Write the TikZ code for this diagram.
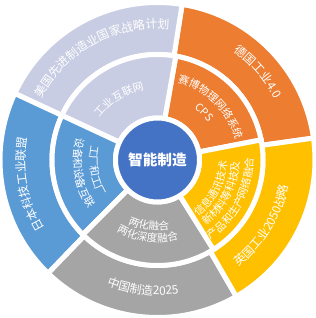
\documentclass[tikz,border=0pt]{standalone}
\usepackage{fontspec}
\setmainfont{Noto Sans CJK SC}
\usetikzlibrary{decorations.text}

\definecolor{segorange}{RGB}{237,125,49}
\definecolor{seglavender}{RGB}{201,205,227}
\definecolor{segblue}{RGB}{91,155,213}
\definecolor{seggray}{RGB}{165,165,165}
\definecolor{segyellow}{RGB}{255,192,0}
\definecolor{coreblue}{RGB}{68,114,196}

\newcommand\outerlbl{\fontsize{8.9pt}{10pt}\selectfont}
\newcommand\innerlbl{\fontsize{8pt}{9pt}\selectfont}

\begin{document}
\begin{tikzpicture}[
    x=0.75pt,
    y=0.75pt,
    seg/.style={draw=white, line width=3.75pt},
    arctext/.style={decorate, decoration={text along path, text align=center, text color=white}}
]
\useasboundingbox (-157.5,-158) rectangle (158.5,160);

% outer ring
\filldraw[seg, fill=segorange] (8:105.5) arc[start angle=8, end angle=81, radius=105.5] -- (81:157.5) arc[start angle=81, end angle=8, radius=157.5] -- cycle;
\filldraw[seg, fill=seglavender] (81:105.5) arc[start angle=81, end angle=155, radius=105.5] -- (155:157.5) arc[start angle=155, end angle=81, radius=157.5] -- cycle;
\filldraw[seg, fill=segblue] (155:105.5) arc[start angle=155, end angle=226, radius=105.5] -- (226:157.5) arc[start angle=226, end angle=155, radius=157.5] -- cycle;
\filldraw[seg, fill=seggray] (226:105.5) arc[start angle=226, end angle=300, radius=105.5] -- (300:157.5) arc[start angle=300, end angle=226, radius=157.5] -- cycle;
\filldraw[seg, fill=segyellow] (300:105.5) arc[start angle=300, end angle=368, radius=105.5] -- (368:157.5) arc[start angle=368, end angle=300, radius=157.5] -- cycle;

% inner ring
\filldraw[seg, fill=segorange] (11:42) arc[start angle=11, end angle=80, radius=42] -- (80:105.5) arc[start angle=80, end angle=11, radius=105.5] -- cycle;
\filldraw[seg, fill=seglavender] (80:42) arc[start angle=80, end angle=155, radius=42] -- (155:105.5) arc[start angle=155, end angle=80, radius=105.5] -- cycle;
\filldraw[seg, fill=segblue] (155:42) arc[start angle=155, end angle=225, radius=42] -- (225:105.5) arc[start angle=225, end angle=155, radius=105.5] -- cycle;
\filldraw[seg, fill=seggray] (225:42) arc[start angle=225, end angle=302, radius=42] -- (302:105.5) arc[start angle=302, end angle=225, radius=105.5] -- cycle;
\filldraw[seg, fill=segyellow] (302:42) arc[start angle=302, end angle=371, radius=42] -- (371:105.5) arc[start angle=371, end angle=302, radius=105.5] -- cycle;

\node[circle, fill=coreblue, draw=white, line width=3.75pt, minimum size=63pt, inner sep=0pt,
      text=white, font=\bfseries\fontsize{11pt}{13pt}\selectfont] (core) at (0,0) {智能制造};

% outer labels
\path[arctext, decoration={text={|\outerlbl|美国先进制造业国家战略计划}}] (168.5:131.5) arc[start angle=168.5, end angle=68.5, radius=131.5];
\path[arctext, decoration={text={|\outerlbl|德国工业4.0}}] (91.2:132) arc[start angle=91.2, end angle=-8.8, radius=132];
\path[arctext, decoration={text={|\outerlbl|英国工业2050战略}}] (-82:133.5) arc[start angle=-82, end angle=18, radius=133.5];
\path[arctext, decoration={text={|\outerlbl|中国制造2025}}] (-146.5:135) arc[start angle=-146.5, end angle=-46.5, radius=135];
\path[arctext, decoration={text={|\outerlbl|日本科技工业联盟}}] (240.7:132.5) arc[start angle=240.7, end angle=140.7, radius=132.5];

% inner labels
\path[arctext, decoration={text={|\innerlbl|工业互联网}}] (172:71.5) arc[start angle=172, end angle=72, radius=71.5];
\path[arctext, decoration={text={|\innerlbl|赛博物理网络系统}}] (95:80.3) arc[start angle=95, end angle=-5, radius=80.3];
\path[arctext, decoration={text={|\innerlbl|CPS}}] (75.5:63) arc[start angle=75.5, end angle=15.5, radius=63];
\path[arctext, decoration={text={|\innerlbl|信息通讯技术}}] (-77.4:69.6) arc[start angle=-77.4, end angle=22.6, radius=69.6];
\path[arctext, decoration={text={|\innerlbl|新材料等科技及}}] (-77.4:81.7) arc[start angle=-77.4, end angle=22.6, radius=81.7];
\path[arctext, decoration={text={|\innerlbl|产品和生产网络融合}}] (-77.4:95.7) arc[start angle=-77.4, end angle=22.6, radius=95.7];
\path[arctext, decoration={text={|\innerlbl|两化融合}}] (-147.5:70.4) arc[start angle=-147.5, end angle=-47.5, radius=70.4];
\path[arctext, decoration={text={|\innerlbl|两化深度融合}}] (-147.5:82.4) arc[start angle=-147.5, end angle=-47.5, radius=82.4];
\path[arctext, decoration={text={|\innerlbl|工厂和工厂}}] (140:68) arc[start angle=140, end angle=240, radius=68];
\path[arctext, decoration={text={|\innerlbl|设备和设备互联}}] (140:84) arc[start angle=140, end angle=240, radius=84];
\end{tikzpicture}
\end{document}
